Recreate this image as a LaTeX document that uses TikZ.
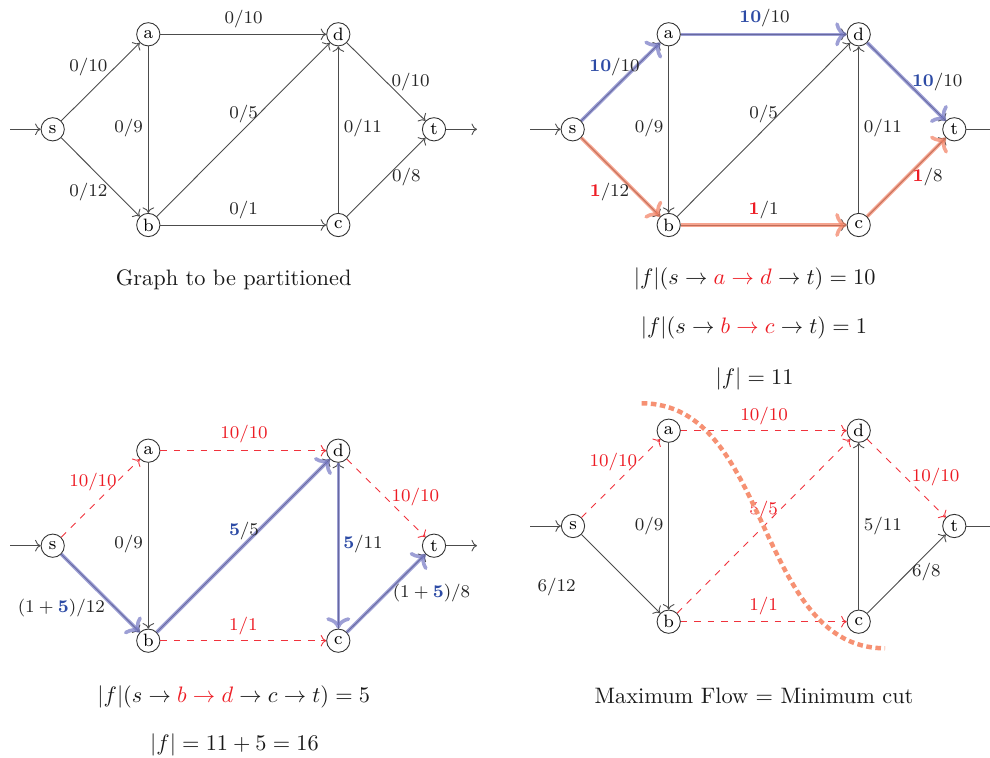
\documentclass[tikz,border=0pt]{standalone}
\usetikzlibrary{arrows.meta}
\definecolor{tblue}{RGB}{45,75,165}
\definecolor{hlblue}{RGB}{115,118,195}
\definecolor{hlorange}{RGB}{242,125,95}
\definecolor{cutcol}{RGB}{246,145,115}
\definecolor{fred}{RGB}{237,28,36}
\definecolor{dred}{RGB}{240,50,60}
\begin{document}
\begin{tikzpicture}[x=0.4474pt,y=-0.4474pt,
  vtx/.style={circle, draw=black!80, fill=white, font=\footnotesize, minimum size=10.4pt, inner sep=0pt},
  edg/.style={->, draw=black!70, line width=0.4pt},
  hb/.style={->, draw=hlblue, line width=1.6pt, opacity=0.7},
  ho/.style={->, draw=hlorange, line width=1.6pt, opacity=0.7},
  rd/.style={->, draw=dred, dashed, line width=0.4pt},
  lbl/.style={font=\footnotesize, inner sep=1pt, text=black!85},
  rl/.style={lbl, text=fred},
  captxt/.style={font=\normalsize, inner sep=1pt, text=black!90},
  cutline/.style={draw=cutcol, line width=2pt, dash pattern=on 2.5pt off 1.6pt}]
\useasboundingbox (0,0) rectangle (990,758);

% ---------------- Graph 1 (top left)
\node[vtx] (s1) at (52.7,129.3) {s};
\node[vtx] (a1) at (148.3,34.3) {a};
\node[vtx] (b1) at (148.3,225) {b};
\node[vtx] (d1) at (338.3,34.3) {d};
\node[vtx] (c1) at (338.3,225) {c};
\node[vtx] (t1) at (434,129.3) {t};
\coordinate (in1) at (10,129.3);
\coordinate (out1) at (477,129.3);
\draw[edg] (in1) -- (s1);
\draw[edg] (t1) -- (out1);
\draw[edg] (s1) -- (a1);
\draw[edg] (s1) -- (b1);
\draw[edg] (a1) -- (d1);
\draw[edg] (a1) -- (b1);
\draw[edg] (b1) -- (d1);
\draw[edg] (b1) -- (c1);
\draw[edg] (c1) -- (d1);
\draw[edg] (d1) -- (t1);
\draw[edg] (c1) -- (t1);
\node[lbl] (l1sa) at (88.3,66.7) {0/10};
\node[lbl] (l1sb) at (88.3,191.7) {0/12};
\node[lbl] (l1ad) at (243.5,19) {0/10};
\node[lbl] (l1ab) at (128.7,128.3) {0/9};
\node[lbl] (l1bd) at (243.7,114.3) {0/5};
\node[lbl] (l1bc) at (243.7,210) {0/1};
\node[lbl] (l1cd) at (362.8,128.3) {0/11};
\node[lbl] (l1dt) at (410.5,81.7) {0/10};
\node[lbl] (l1ct) at (406.3,176.7) {0/8};
\node[captxt] (cap1) at (233.7,279.3) {Graph to be partitioned};

% ---------------- Graph 2 (top right)
\node[vtx] (s2) at (572.7,129.3) {s};
\node[vtx] (a2) at (668.7,34.3) {a};
\node[vtx] (b2) at (668.7,225) {b};
\node[vtx] (d2) at (858.7,34.3) {d};
\node[vtx] (c2) at (858.7,225) {c};
\node[vtx] (t2) at (954.3,129.3) {t};
\coordinate (in2) at (530,129.3);
\coordinate (out2) at (997,129.3);
\draw[edg] (in2) -- (s2);
\draw[edg] (t2) -- (out2);
\draw[edg] (s2) -- (a2);
\draw[edg] (s2) -- (b2);
\draw[edg] (a2) -- (d2);
\draw[edg] (a2) -- (b2);
\draw[edg] (b2) -- (d2);
\draw[edg] (b2) -- (c2);
\draw[edg] (c2) -- (d2);
\draw[edg] (d2) -- (t2);
\draw[edg] (c2) -- (t2);
\draw[hb] (s2) -- (a2);
\draw[hb] (a2) -- (d2);
\draw[hb] (d2) -- (t2);
\draw[ho] (s2) -- (b2);
\draw[ho] (b2) -- (c2);
\draw[ho] (c2) -- (t2);
\node[lbl] (l2sa) at (614.5,66.7) {\textcolor{tblue}{\textbf{10}}/10};
\node[lbl] (l2ad) at (764.5,18.3) {\textcolor{tblue}{\textbf{10}}/10};
\node[lbl] (l2dt) at (937.2,81.7) {\textcolor{tblue}{\textbf{10}}/10};
\node[lbl] (l2ab) at (649,128.3) {0/9};
\node[lbl] (l2bd) at (763.7,114.3) {0/5};
\node[lbl] (l2cd) at (882.8,128.3) {0/11};
\node[lbl] (l2sb) at (609.5,191.7) {\textcolor{fred}{\textbf{1}}/12};
\node[lbl] (l2bc) at (763.7,210) {\textcolor{fred}{\textbf{1}}/1};
\node[lbl] (l2ct) at (927.5,176.7) {\textcolor{fred}{\textbf{1}}/8};
\node[captxt] (cap2a) at (754.7,279.3) {$|f|(s\to \textcolor{fred}{a\to d}\to t)=10$};
\node[captxt] (cap2b) at (754,328) {$|f|(s\to \textcolor{fred}{b\to c}\to t)=1$};
\node[captxt] (cap2c) at (754.5,379) {$|f|=11$};

% ---------------- Graph 3 (bottom left)
\node[vtx] (s3) at (52.7,545.7) {s};
\node[vtx] (a3) at (148.3,450.7) {a};
\node[vtx] (b3) at (148.3,640.7) {b};
\node[vtx] (d3) at (338.3,450.7) {d};
\node[vtx] (c3) at (338.3,640.7) {c};
\node[vtx] (t3) at (434,545.7) {t};
\coordinate (in3) at (10,545.7);
\coordinate (out3) at (477,545.7);
\draw[edg] (in3) -- (s3);
\draw[edg] (t3) -- (out3);
\draw[rd] (s3) -- (a3);
\draw[edg] (s3) -- (b3);
\draw[rd] (a3) -- (d3);
\draw[edg] (a3) -- (b3);
\draw[edg] (b3) -- (d3);
\draw[rd] (b3) -- (c3);
\draw[edg] (c3) -- (d3);
\draw[rd] (d3) -- (t3);
\draw[edg] (c3) -- (t3);
\draw[hb] (s3) -- (b3);
\draw[hb] (b3) -- (d3);
\draw[hb] (d3) -- (c3);
\draw[hb] (c3) -- (t3);
\node[rl] (l3sa) at (93,481.7) {10/10};
\node[rl] (l3ad) at (244,434.3) {10/10};
\node[rl] (l3dt) at (415.3,497.3) {10/10};
\node[lbl] (l3ab) at (128.7,544.3) {0/9};
\node[lbl] (l3bd) at (244,530.7) {\textcolor{tblue}{\textbf{5}}/5};
\node[lbl] (l3cd) at (363,544.3) {\textcolor{tblue}{\textbf{5}}/11};
\node[lbl] (l3sb) at (61.3,608) {$(1+\textcolor{tblue}{\mathbf{5}})/12$};
\node[rl] (l3bc) at (243.3,625.7) {1/1};
\node[lbl] (l3ct) at (431.5,592.7) {$(1+\textcolor{tblue}{\mathbf{5}})/8$};
\node[captxt] (cap3a) at (233.8,696.7) {$|f|(s\to \textcolor{fred}{b\to d}\to c\to t)=5$};
\node[captxt] (cap3b) at (234.5,745) {$|f|=11+5=16$};

% ---------------- Graph 4 (bottom right)
\node[vtx] (s4) at (573,526) {s};
\node[vtx] (a4) at (668.7,430.7) {a};
\node[vtx] (b4) at (668.7,621.7) {b};
\node[vtx] (d4) at (858.7,430.7) {d};
\node[vtx] (c4) at (858.7,621.7) {c};
\node[vtx] (t4) at (954.3,526) {t};
\coordinate (in4) at (530,526);
\coordinate (out4) at (997,526);
\draw[edg] (in4) -- (s4);
\draw[edg] (t4) -- (out4);
\draw[rd] (s4) -- (a4);
\draw[edg] (s4) -- (b4);
\draw[rd] (a4) -- (d4);
\draw[edg] (a4) -- (b4);
\draw[rd] (b4) -- (d4);
\draw[rd] (b4) -- (c4);
\draw[edg] (c4) -- (d4);
\draw[rd] (d4) -- (t4);
\draw[edg] (c4) -- (t4);
\node[rl] (l4sa) at (613.3,462.3) {10/10};
\node[rl] (l4ad) at (764.2,415.7) {10/10};
\node[rl] (l4dt) at (935.7,477.3) {10/10};
\node[lbl] (l4ab) at (649,526) {0/9};
\node[rl] (l4bd) at (763.7,510) {5/5};
\node[lbl] (l4cd) at (882.8,526) {5/11};
\node[lbl] (l4sb) at (556.7,587.3) {6/12};
\node[rl] (l4bc) at (763.7,605.7) {1/1};
\node[lbl] (l4ct) at (926.3,572.3) {6/8};
\draw[cutline] (641.7,403.3) .. controls (770.7,403.3) and (756,648.3) .. (885,648.3);
\node[captxt] (cap4) at (754,696) {Maximum Flow $=$ Minimum cut};
\end{tikzpicture}
\end{document}
